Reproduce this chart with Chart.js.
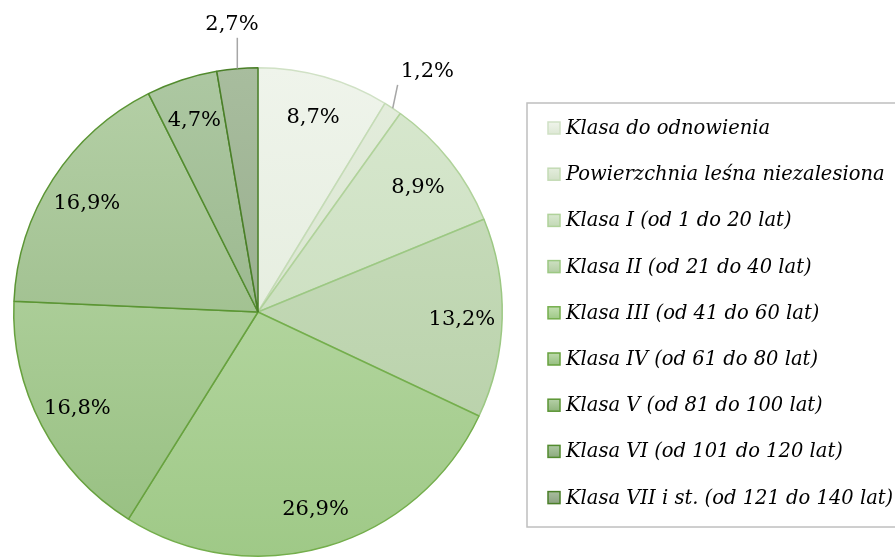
<!DOCTYPE html>
<html lang="pl">
<head>
<meta charset="utf-8">
<title>Struktura klas wieku drzewostanów</title>
<script src="https://cdn.jsdelivr.net/npm/chart.js@4.4.1/dist/chart.umd.min.js"></script>
<style>
  html, body { margin: 0; padding: 0; background: #ffffff; overflow: hidden; }
  /* the pie runs slightly past the bottom edge, so the canvas is taller than the window */
  #wrap { position: relative; width: 895px; height: 624px; }
</style>
</head>
<body>
<div id="wrap"><canvas id="pie"></canvas></div>
<script>
/* ---------- data ---------- */
const categories = [
  'Klasa do odnowienia',
  'Powierzchnia leśna niezalesiona',
  'Klasa I (od 1 do 20 lat)',
  'Klasa II (od 21 do 40 lat)',
  'Klasa III (od 41 do 60 lat)',
  'Klasa IV (od 61 do 80 lat)',
  'Klasa V (od 81 do 100 lat)',
  'Klasa VI (od 101 do 120 lat)',
  'Klasa VII i st. (od 121 do 140 lat)'
];
const shares = [8.7, 1.2, 8.9, 13.2, 26.9, 16.8, 16.9, 4.7, 2.7];

/* ---------- colours (green monochrome, light -> dark) ---------- */
const fillTop    = ['#eff4eb', '#e4eddd', '#d8e8cf', '#cde0c2', '#c3dfb2', '#bedaad', '#b5d0a7', '#adc8a2', '#a8bd9e'];
const fillBottom = ['#dde8d5', '#d2e0c7', '#c3d9b6', '#b3cda3', '#9fc987', '#96bf80', '#90b47d', '#8caa7e', '#8ca281'];
const edgeColors = ['#d0e1c5', '#c4dbb5', '#b0d29a', '#9cc883', '#74ae4c', '#67a13e', '#5b9534', '#528b2e', '#4a7f28'];

const SERIF = '"DejaVu Serif", "Liberation Serif", serif';

function pct(v) {
  return v.toFixed(1).replace('.', ',') + '%';
}

/* vertical gradient across the whole pie for one slice */
function sliceFill(ctx) {
  const i = ctx.dataIndex;
  const area = ctx.chart.chartArea;
  if (!area) return fillBottom[i];
  const g = ctx.chart.ctx.createLinearGradient(0, area.top, 0, area.bottom);
  g.addColorStop(0, fillTop[i]);
  g.addColorStop(1, fillBottom[i]);
  return g;
}

/* ---------- value labels: inside, or outside with a leader line for thin slices ---------- */
const sliceLabels = {
  id: 'sliceLabels',
  afterDatasetsDraw(chart) {
    const meta = chart.getDatasetMeta(0);
    const values = chart.data.datasets[0].data;
    const c = chart.ctx;
    c.save();
    c.font = '21px ' + SERIF;
    c.textAlign = 'center';
    c.textBaseline = 'middle';
    meta.data.forEach((arc, i) => {
      const p = arc.getProps(['x', 'y', 'startAngle', 'endAngle', 'outerRadius'], true);
      const mid = (p.startAngle + p.endAngle) / 2;
      const cos = Math.cos(mid), sin = Math.sin(mid);
      const text = pct(values[i]);

      if (values[i] >= 3) {
        const r = p.outerRadius * 0.835;
        c.fillStyle = '#000';
        c.fillText(text, p.x + cos * r, p.y + sin * r + 2);
        return;
      }

      const hw = c.measureText(text).width / 2;
      const ra = p.outerRadius + 36;
      const lx = p.x + cos * ra + hw * cos;
      const ly = p.y + sin * ra + 10 * sin;
      const ex = p.x + cos * p.outerRadius;
      const ey = p.y + sin * p.outerRadius;
      const tx = Math.min(Math.max(ex, lx - hw - 3), lx + hw + 3);
      const ty = Math.min(Math.max(ey, ly - 15), ly + 15);

      c.strokeStyle = '#a6a6a6';
      c.lineWidth = 1.5;
      c.beginPath();
      c.moveTo(ex, ey);
      c.lineTo(tx, ty);
      c.stroke();

      c.fillStyle = '#000';
      c.fillText(text, lx, ly + 2);
    });
    c.restore();
  }
};

/* ---------- framed legend on the right ---------- */
const boxLegend = {
  id: 'boxLegend',
  afterDraw(chart, args, opts) {
    const c = chart.ctx;
    const names = chart.data.labels;
    c.save();
    c.strokeStyle = '#bfbfbf';
    c.lineWidth = 1.5;
    c.strokeRect(opts.left, opts.top, opts.width, opts.height);

    c.font = 'italic 19.5px ' + SERIF;
    c.textAlign = 'left';
    c.textBaseline = 'middle';
    names.forEach((name, i) => {
      const y = opts.firstRow + i * opts.rowGap;
      const s = opts.marker;
      const g = c.createLinearGradient(0, y - s / 2, 0, y + s / 2);
      g.addColorStop(0, fillTop[i]);
      g.addColorStop(1, fillBottom[i]);
      c.fillStyle = g;
      c.fillRect(opts.markerX, y - s / 2, s, s);
      c.strokeStyle = edgeColors[i];
      c.lineWidth = 1.5;
      c.strokeRect(opts.markerX, y - s / 2, s, s);

      c.fillStyle = '#000';
      c.fillText(name, opts.textX, y + 1);
    });
    c.restore();
  }
};

/* ---------- chart ---------- */
function buildChart() {
  const canvas = document.getElementById('pie');

  new Chart(canvas, {
    type: 'pie',
    data: {
      labels: categories,
      datasets: [{
        data: shares,
        backgroundColor: sliceFill,
        borderColor: edgeColors,
        borderWidth: 1.5
      }]
    },
    options: {
      responsive: true,
      maintainAspectRatio: false,
      animation: false,
      events: [],
      layout: { padding: { left: 13, top: 67, right: 392, bottom: 67 } },
      plugins: {
        legend: { display: false },
        tooltip: { enabled: false },
        boxLegend: {
          left: 527, top: 103, width: 400, height: 424,
          firstRow: 128, rowGap: 46.2,
          markerX: 548, marker: 12, textX: 566
        }
      }
    },
    plugins: [sliceLabels, boxLegend]
  });
}

window.addEventListener('load', buildChart);
</script>
</body>
</html>
